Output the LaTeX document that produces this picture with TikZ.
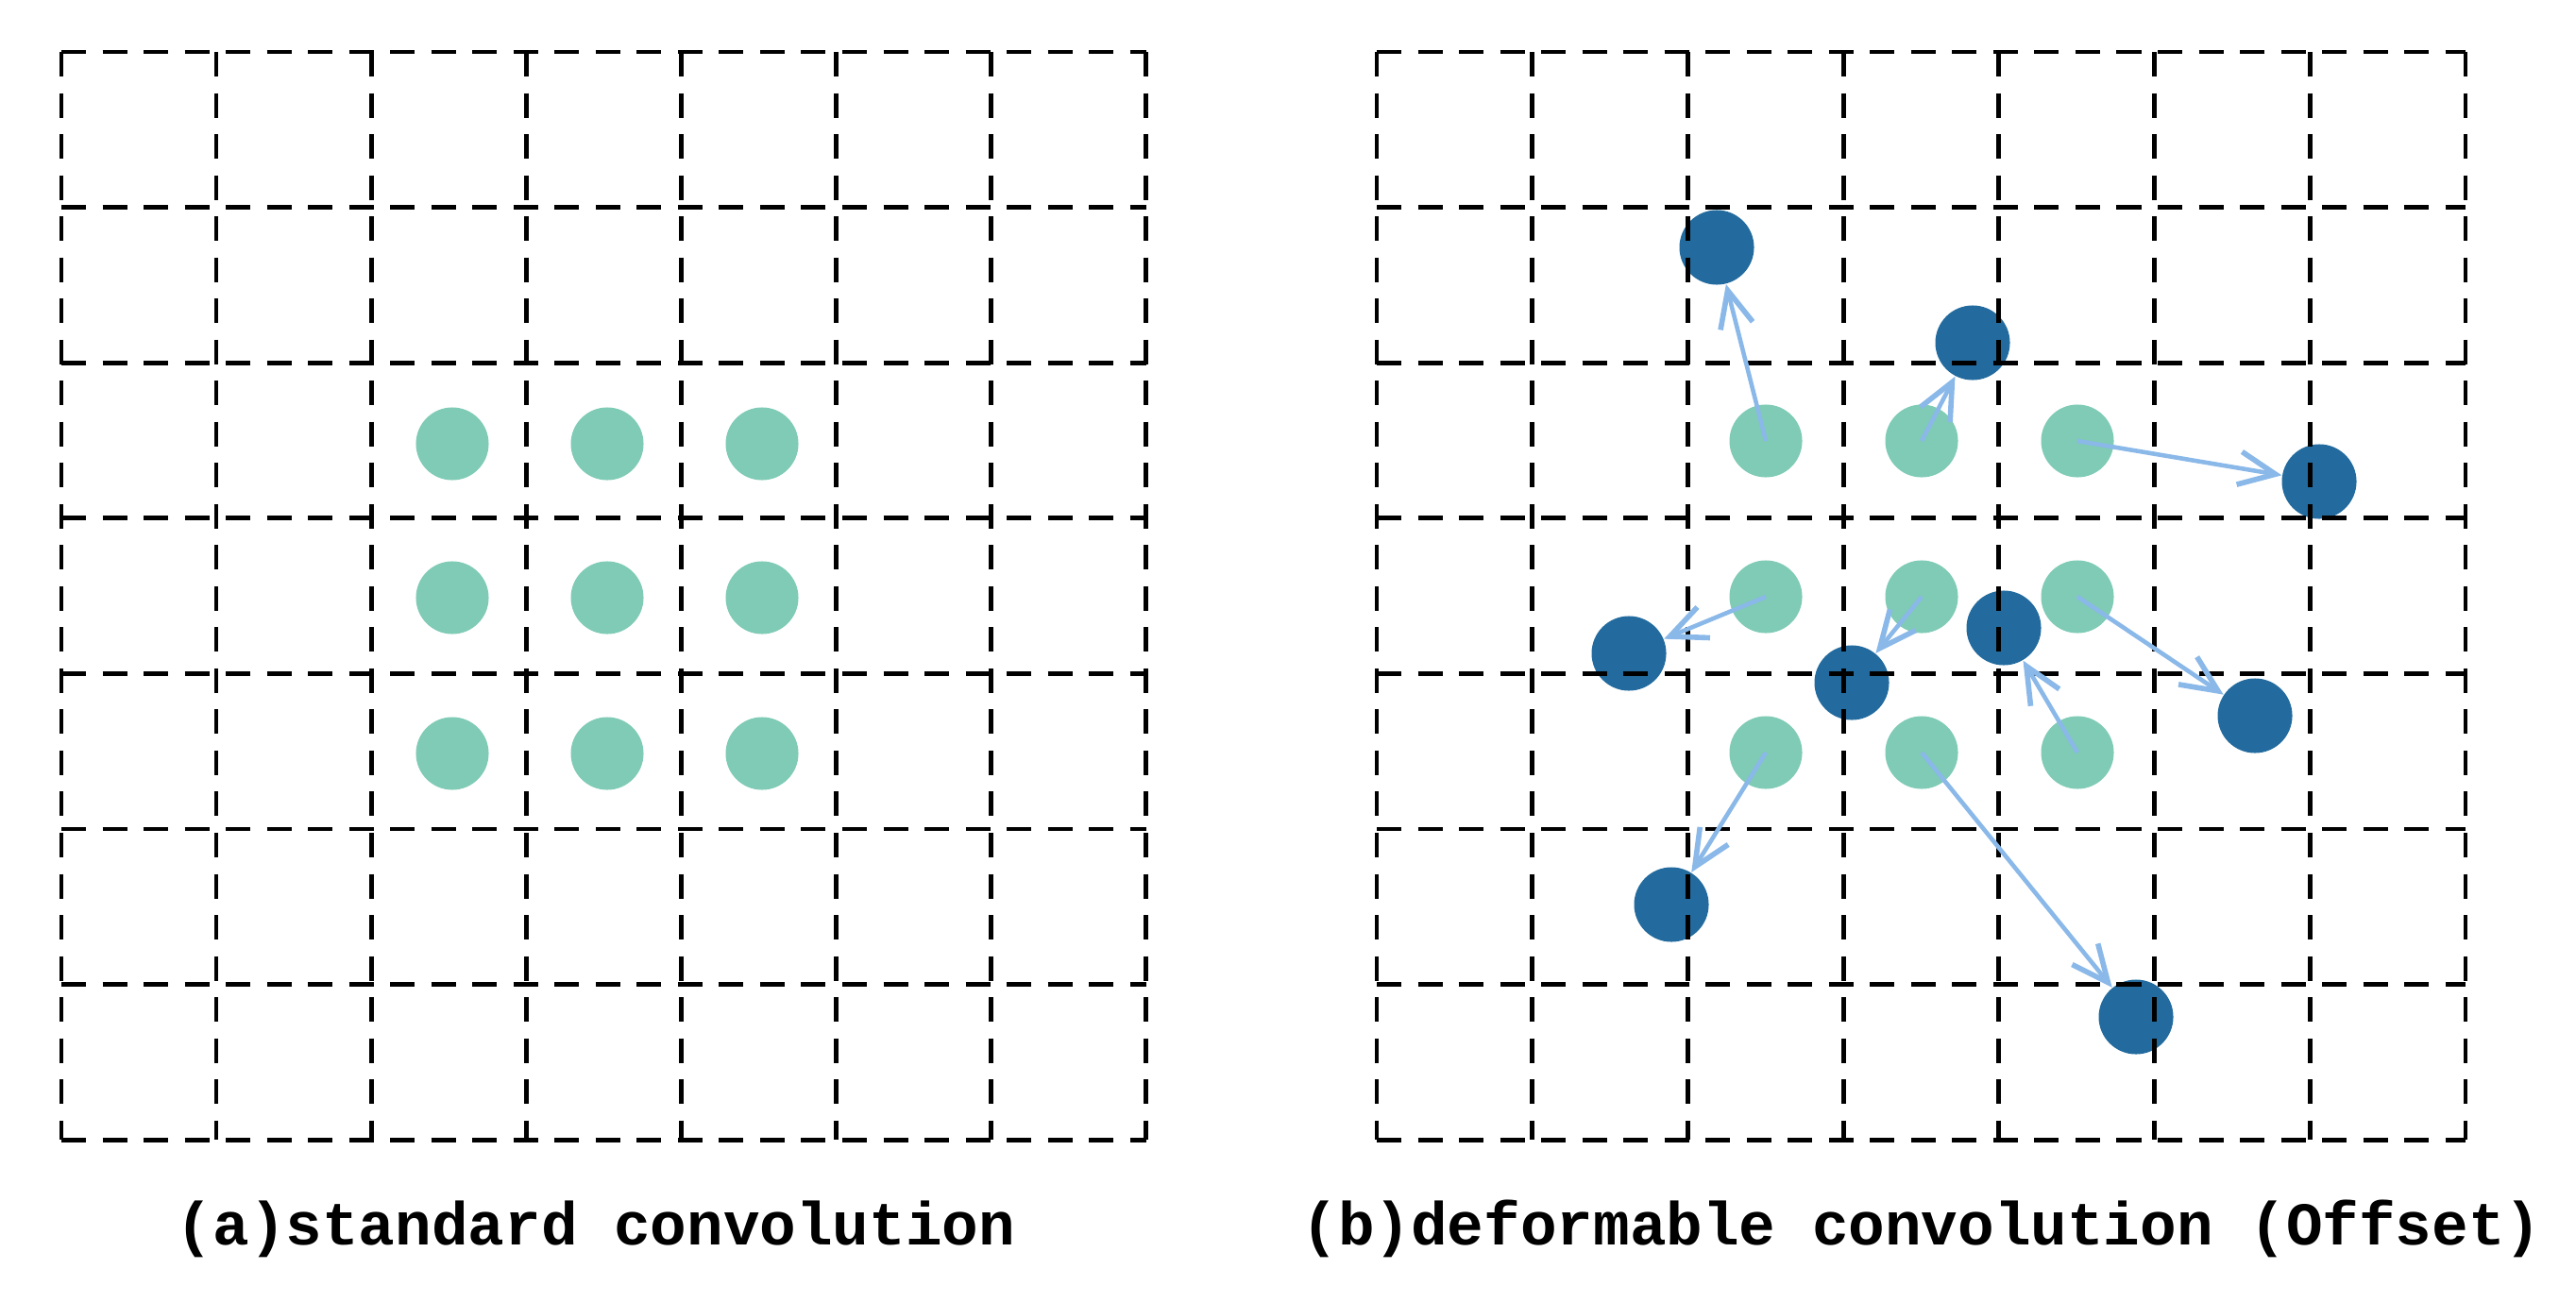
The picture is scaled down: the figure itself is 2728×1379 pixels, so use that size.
\documentclass[tikz,border=0pt]{standalone}
\usepackage{fontspec}
\setmonofont{Liberation Mono}
\usetikzlibrary{arrows.meta}
\definecolor{lightdot}{RGB}{127,203,181}
\definecolor{darkdot}{RGB}{35,107,158}
\definecolor{offarrow}{RGB}{138,184,232}
\begin{document}
\begin{tikzpicture}[x=0.01cm,y=-0.01cm,
  gridline/.style={line width=1.35pt, dash pattern=on 0.26cm off 0.175cm, black},
  lightpt/.style={circle, fill=lightdot, minimum size=0.77cm, inner sep=0pt},
  darkpt/.style={circle, fill=darkdot, minimum size=0.79cm, inner sep=0pt},
  offsetarrow/.style={draw=offarrow, line width=1.3pt, -{Straight Barb[length=11pt,width=10pt,line width=1.6pt]}},
  captiontext/.style={font=\ttfamily\bfseries\fontsize{18.3}{22}\selectfont, inner sep=0pt, anchor=base}]
\useasboundingbox (0,0) rectangle (2728,1379);
% left grid sampling points
\foreach \c/\x in {2/479,3/643,4/807}{
  \foreach \r/\y in {2/470,3/633,4/798}{
    \node[lightpt] (l\c\r) at (\x,\y) {};
  }
}
% right grid regular sampling points
\foreach \c/\x in {2/1870,3/2035,4/2200}{
  \foreach \r/\y in {2/467,3/632,4/797}{
    \node[lightpt] (r\c\r) at (\x,\y) {};
  }
}
% deformed sampling points
\node[darkpt] (d1) at (1818,262) {};
\node[darkpt] (d2) at (2089,363) {};
\node[darkpt] (d3) at (2456,510) {};
\node[darkpt] (d4) at (1725,692) {};
\node[darkpt] (d5) at (1961,723) {};
\node[darkpt] (d6) at (2122,665) {};
\node[darkpt] (d7) at (2388,758) {};
\node[darkpt] (d8) at (1770,958) {};
\node[darkpt] (d9) at (2262,1077) {};
% grids
\foreach \i in {0,...,7}{
  \draw[gridline] ({65+164.1*\i},55) -- ({65+164.1*\i},1207);
  \draw[gridline] (65,{55+164.6*\i}) -- (1214,{55+164.6*\i});
  \draw[gridline] ({1458+164.7*\i},55) -- ({1458+164.7*\i},1207);
  \draw[gridline] (1458,{55+164.6*\i}) -- (2611,{55+164.6*\i});
}
% offsets
\draw[offsetarrow] (r22.center) -- (d1);
\draw[offsetarrow] (r32.center) -- (d2);
\draw[offsetarrow] (r42.center) -- (d3);
\draw[offsetarrow] (r23.center) -- (d4);
\draw[offsetarrow] (r33.center) -- (d5);
\draw[offsetarrow] (r44.center) -- (d6);
\draw[offsetarrow] (r43.center) -- (d7);
\draw[offsetarrow] (r24.center) -- (d8);
\draw[offsetarrow] (r34.center) -- (d9);
% captions
\node[captiontext] (capa) at (631,1318) {(a)standard convolution};
\node[captiontext] (capb) at (2035,1318) {(b)deformable convolution (Offset)};
\end{tikzpicture}
\end{document}
